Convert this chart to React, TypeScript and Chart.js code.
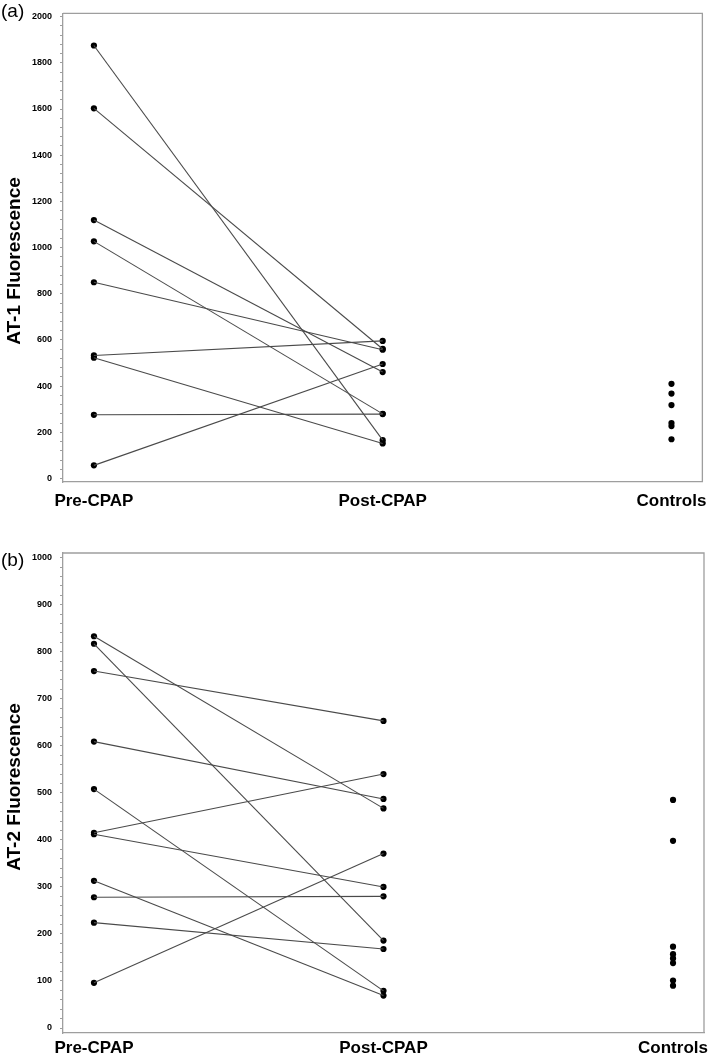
import React, { useEffect, useRef } from 'react';
import { Chart, registerables } from 'chart.js';

Chart.register(...registerables);

// ---------- data ----------
const groupLabels = ['Pre-CPAP', 'Post-CPAP', 'Controls'];

// Panel (a): AT-1 fluorescence (paired pre / post values, same order)
const at1Pre = [1875, 1603, 1119, 1027, 850, 533, 523, 276, 57];
const at1Post = [166, 561, 461, 280, 558, 596, 152, 279, 496];
const at1Controls = [410, 368, 318, 240, 227, 170];
const at1MajorTicks = [0, 200, 400, 600, 800, 1000, 1200, 1400, 1600, 1800, 2000];
const at1MinorStep = 40;

// Panel (b): AT-2 fluorescence (paired pre / post values, same order)
const at2Pre = [833, 817, 759, 609, 508, 415, 412, 313, 278, 224, 96];
const at2Post = [467, 186, 653, 487, 79, 540, 300, 69, 280, 168, 371];
const at2Controls = [485, 398, 173, 157, 148, 138, 101, 90];
const at2MajorTicks = [0, 100, 200, 300, 400, 500, 600, 700, 800, 900, 1000];
const at2MinorStep = 20;

// ---------- styling ----------
const FONT = '"Liberation Sans", Arial, Helvetica, sans-serif';
const AXIS_GRAY = '#9e9e9e';
const LINE_GRAY = '#4a4a4a';

const frameAndText = {
  id: 'frameAndText',
  afterDraw(chart: any, _args: any, opts: any) {
    const { ctx, chartArea: a } = chart;
    ctx.save();
    ctx.strokeStyle = AXIS_GRAY;
    ctx.lineWidth = 1.3;
    ctx.beginPath();
    ctx.moveTo(a.left, a.top);
    ctx.lineTo(a.right, a.top);
    ctx.lineTo(a.right, a.bottom);
    ctx.stroke();

    ctx.fillStyle = '#000';
    ctx.font = `19px ${FONT}`;
    ctx.textAlign = 'left';
    ctx.textBaseline = 'middle';
    ctx.fillText(opts.panelLabel, 1, opts.panelLabelY);

    ctx.translate(opts.titleX, opts.titleY);
    ctx.rotate(-Math.PI / 2);
    ctx.font = `bold 19px ${FONT}`;
    ctx.textAlign = 'center';
    ctx.textBaseline = 'middle';
    ctx.fillText(opts.title, 0, 0);
    ctx.restore();
  },
};

type PanelProps = {
  pre: number[];
  post: number[];
  controls: number[];
  majorTicks: number[];
  minorStep: number;
  yMin: number;
  yMax: number;
  panelLabel: string;
  title: string;
  width: number;
  height: number;
  plotTop: number;
  plotBottom: number;
  xLabelPad: number;
  panelLabelY: number;
  titleY: number;
};

function Panel(p: PanelProps) {
  const ref = useRef<HTMLCanvasElement | null>(null);

  useEffect(() => {
    if (!ref.current) return;
    const lineSets = p.pre.map((v, i) => ({
      type: 'line' as const,
      data: [
        { x: 0, y: v },
        { x: 1, y: p.post[i] },
      ],
      borderColor: LINE_GRAY,
      borderWidth: 1.1,
      pointRadius: 0,
      fill: false,
    }));
    const pointSet = {
      type: 'scatter' as const,
      data: [
        ...p.pre.map((y) => ({ x: 0, y })),
        ...p.post.map((y) => ({ x: 1, y })),
        ...p.controls.map((y) => ({ x: 2, y })),
      ],
      pointRadius: 3.1,
      pointBackgroundColor: '#000',
      pointBorderColor: '#000',
      pointBorderWidth: 0,
      showLine: false,
    };

    const majorSet = new Set(p.majorTicks);
    const axisBottomHeight = p.height - p.plotBottom;

    const chart = new Chart(ref.current, {
      type: 'scatter',
      data: { datasets: [...lineSets, pointSet] as any },
      plugins: [frameAndText as any],
      options: {
        animation: false,
        responsive: false,
        events: [],
        layout: { padding: { top: p.plotTop, right: 12, left: 0, bottom: 0 } },
        plugins: {
          legend: { display: false },
          tooltip: { enabled: false },
          frameAndText: {
            panelLabel: p.panelLabel,
            panelLabelY: p.panelLabelY,
            title: p.title,
            titleX: 14.5,
            titleY: p.titleY,
          },
        } as any,
        scales: {
          x: {
            type: 'linear',
            min: -0.107,
            max: 2.107,
            grid: { display: true, drawOnChartArea: false, drawTicks: false, color: AXIS_GRAY },
            border: { display: true, color: AXIS_GRAY, width: 1.3 },
            afterBuildTicks: (scale: any) => {
              scale.ticks = groupLabels.map((_, i) => ({ value: i }));
            },
            afterFit: (scale: any) => {
              scale.height = axisBottomHeight;
            },
            ticks: {
              padding: p.xLabelPad,
              autoSkip: false,
              maxRotation: 0,
              color: '#000',
              font: { family: FONT, size: 17, weight: 'bold' },
              callback: (v: any) => groupLabels[Number(v)] ?? '',
            },
          },
          y: {
            type: 'linear',
            min: p.yMin,
            max: p.yMax,
            grid: {
              display: true,
              drawOnChartArea: false,
              drawTicks: true,
              tickLength: 3,
              color: AXIS_GRAY,
            },
            border: { display: true, color: AXIS_GRAY, width: 1.3 },
            afterBuildTicks: (scale: any) => {
              const top = p.majorTicks[p.majorTicks.length - 1];
              const t: any[] = [];
              for (let v = 0; v <= top; v += p.minorStep) t.push({ value: v });
              scale.ticks = t;
            },
            afterFit: (scale: any) => {
              scale.width = 63;
            },
            ticks: {
              padding: 8,
              autoSkip: false,
              color: '#000',
              font: { family: FONT, size: 9, weight: 'bold' },
              callback: (v: any) => (majorSet.has(Number(v)) ? String(v) : ''),
            },
          },
        },
      } as any,
    });
    return () => chart.destroy();
  }, []);

  return <canvas ref={ref} width={p.width} height={p.height} style={{ display: 'block' }} />;
}

export default function App() {
  return (
    <div style={{ position: 'absolute', left: 0, top: 0, width: 716, height: 1057, background: '#fff' }}>
      <Panel
        pre={at1Pre}
        post={at1Post}
        controls={at1Controls}
        majorTicks={at1MajorTicks}
        minorStep={at1MinorStep}
        yMin={-15}
        yMax={2014}
        panelLabel="(a)"
        title="AT-1 Fluorescence"
        width={716}
        height={520}
        plotTop={3}
        plotBottom={482}
        xLabelPad={9}
        panelLabelY={12}
        titleY={261}
      />
      <Panel
        pre={at2Pre}
        post={at2Post}
        controls={at2Controls}
        majorTicks={at2MajorTicks}
        minorStep={at2MinorStep}
        yMin={-10.6}
        yMax={1010}
        panelLabel="(b)"
        title="AT-2 Fluorescence"
        width={716}
        height={537}
        plotTop={33}
        plotBottom={513}
        xLabelPad={5}
        panelLabelY={41}
        titleY={267}
      />
    </div>
  );
}
